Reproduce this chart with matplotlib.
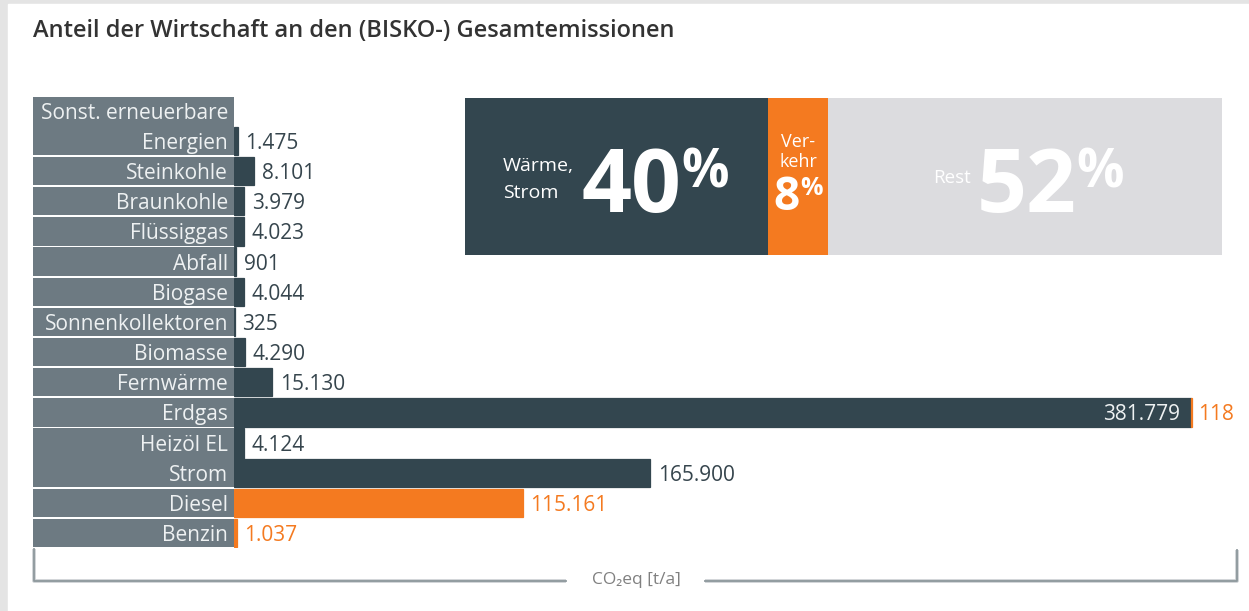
import matplotlib
matplotlib.use("Agg")
import matplotlib.pyplot as plt
import matplotlib.transforms as mtransforms
from matplotlib.patches import Rectangle
import numpy as np

# ---------------- data ----------------
title = "Anteil der Wirtschaft an den (BISKO-) Gesamtemissionen"
categories = ["Sonst. erneuerbare\nEnergien", "Steinkohle", "Braunkohle", "Flüssiggas",
              "Abfall", "Biogase", "Sonnenkollektoren", "Biomasse", "Fernwärme",
              "Erdgas", "Heizöl EL", "Strom", "Diesel", "Benzin"]
waerme_strom = [1475, 8101, 3979, 4023, 901, 4044, 325, 4290, 15130,
                381779, 4124, 165900, 0, 0]
verkehr = [0, 0, 0, 0, 0, 0, 0, 0, 0, 118, 0, 0, 115161, 1037]
label_join_next = [False] * 10 + [True] + [False] * 3   # Heizöl EL box merged with Strom

share_labels = ["Wärme,\nStrom", "Ver-\nkehr", "Rest"]
share_values = [40, 8, 52]
axis_label = "CO\u2082eq [t/a]"

# ---------------- style ----------------
C_DARK = "#33464f"
C_ORANGE = "#f47a20"
C_LIGHT = "#dcdcdf"
C_BOX = "#6d7a82"
C_BOXTXT = "#eef1f2"
C_VAL = "#36454d"
FS = 15

plt.rcParams["font.family"] = ["Open Sans", "DejaVu Sans"]

W, H = 1249, 611
fig = plt.figure(figsize=(W / 100, H / 100), dpi=100)


def fx(px):
    return px / W


def fh(py):
    return py / H


# decoration layer in pixel coordinates
deco = fig.add_axes([0, 0, 1, 1], zorder=0)
deco.set_xlim(0, W)
deco.set_ylim(H, 0)
deco.axis("off")
deco.add_patch(Rectangle((0, 0), W, H, color="#e4e4e4"))
deco.add_patch(Rectangle((8, 4), W - 8, H - 4, color="white"))
deco.text(33, 31, title, ha="left", va="center", fontsize=17,
          fontweight="semibold", color="#333333")

# bracket under the chart
bc = "#8e989d"
deco.plot([34, 34, 566], [549, 581, 581], color="#c9cdd0", lw=2.6, solid_capstyle="butt", zorder=1)
deco.plot([705, 1237, 1237], [581, 581, 550], color="#c9cdd0", lw=2.6, solid_capstyle="butt", zorder=1)
deco.plot([34, 34, 566], [549, 581, 581], color=bc, lw=1.3, zorder=2)
deco.plot([705, 1237, 1237], [581, 581, 550], color=bc, lw=1.3, zorder=2)
deco.text(636, 580, axis_label, ha="center", va="center", fontsize=12.5,
          color="#808080", family=["Open Sans", "DejaVu Sans"])

# ---------------- bars ----------------
n = len(categories)
ypos = np.arange(n)
top_px, pitch = 95.8, 30.15
bottom_px = top_px + pitch * (n + 1)
ax_bottom = 1 - fh(bottom_px)
ax_h = fh(bottom_px - top_px)

ax = fig.add_axes([fx(234), ax_bottom, fx(1237) - fx(234), ax_h], zorder=2)
ax.set_xlim(0, 400000)
ax.set_ylim(n - 0.5, -1.5)
ax.axis("off")
ax_txt = mtransforms.offset_copy(ax.transData, fig=fig, x=0, y=-2.5, units="dots")

g = 0.06
bh = 1 - g
centers, heights = [], []
for i in range(n):
    top = ypos[i] - bh / 2
    bot = ypos[i] + bh / 2
    if label_join_next[i]:
        bot = ypos[i + 1] - bh / 2
    centers.append((top + bot) / 2)
    heights.append(bot - top)

ws = np.array(waerme_strom)
vk = np.array(verkehr)
ax.barh(centers, ws, height=heights, color=C_DARK,
        edgecolor=[C_DARK if v > 0 else "none" for v in ws], lw=0.9)
ax.barh(centers, vk, left=ws, height=heights, color=C_ORANGE,
        edgecolor=[C_ORANGE if v > 0 else "none" for v in vk], lw=0.9)


def fmt(v):
    return f"{v:,}".replace(",", ".")


for i in range(n):
    a, b = ws[i], vk[i]
    if a > 0 and b > 0:
        ax.annotate(fmt(a), xy=(a, ypos[i]), xycoords=ax_txt, xytext=(-8, 0),
                    textcoords="offset points", ha="right", va="center",
                    fontsize=FS, color=C_BOXTXT)
        ax.annotate(fmt(b), xy=(a + b, ypos[i]), xycoords=ax_txt, xytext=(4.5, 0),
                    textcoords="offset points", ha="left", va="center",
                    fontsize=FS, color=C_ORANGE)
    elif a > 0:
        ax.annotate(fmt(a), xy=(a, ypos[i]), xycoords=ax_txt, xytext=(5.5, 0),
                    textcoords="offset points", ha="left", va="center",
                    fontsize=FS, color=C_VAL)
    elif b > 0:
        ax.annotate(fmt(b), xy=(b, ypos[i]), xycoords=ax_txt, xytext=(5.5, 0),
                    textcoords="offset points", ha="left", va="center",
                    fontsize=FS, color=C_ORANGE)

# ---------------- category label boxes ----------------
lab = fig.add_axes([fx(33), ax_bottom, fx(234) - fx(33), ax_h], zorder=1)
lab.set_xlim(0, 1)
lab.set_ylim(n - 0.5, -1.5)
lab.axis("off")
lab_txt = mtransforms.offset_copy(lab.transData, fig=fig, x=0, y=-2.5, units="dots")
i = 0
while i < n:
    nlines = categories[i].count("\n") + 1
    top = ypos[i] - (nlines - 1) - 0.5 + g / 2
    j = i
    while label_join_next[j]:
        j += 1
    bot = ypos[j] + 0.5 - g / 2
    lab.add_patch(Rectangle((0, top), 1, bot - top, color=C_BOX, lw=0))
    i = j + 1
for i, cat in enumerate(categories):
    for k, line in enumerate(reversed(cat.split("\n"))):
        lab.text(0.97, ypos[i] - k, line, ha="right", va="center",
                 fontsize=FS, color=C_BOXTXT, transform=lab_txt)

# ---------------- summary box ----------------
sa = fig.add_axes([fx(465), 1 - fh(255), fx(1222) - fx(465), fh(157)], zorder=3)
sa.set_xlim(0, 100)
sa.set_ylim(0, 1)
sa.axis("off")
seg_colors = [C_DARK, C_ORANGE, C_LIGHT]
lefts = np.cumsum([0] + share_values[:-1])
sa.barh([0.5] * 3, share_values, left=lefts, height=1.0, color=seg_colors, lw=0)

fig.canvas.draw()
renderer = fig.canvas.get_renderer()


def big_pct(x, yb, value, size, pct_size, ha="left"):
    t = sa.text(x, yb, f"{value}", ha=ha, va="baseline", fontsize=size,
                fontweight="bold", color="white")
    bb = t.get_window_extent(renderer)
    ybase = sa.transData.transform((x, yb))[1]
    sa.annotate("%", xy=(bb.x1, ybase), xycoords="figure pixels",
                xytext=(0, 0.714 * (size - pct_size)), textcoords="offset points",
                ha="left", va="baseline", fontsize=pct_size, fontweight="bold",
                color="white")


# Wärme, Strom
sa.text(5.0, 0.48, share_labels[0], ha="left", va="center", fontsize=14,
        color="white", linespacing=1.65)
big_pct(15.4, 0.274, share_values[0], 63, 38)
# Verkehr
sa.text(44.0, 0.655, share_labels[1], ha="center", va="center", fontsize=13,
        color="white", linespacing=1.15)
big_pct(40.8, 0.287, share_values[1], 33, 18)
# Rest
sa.text(66.8, 0.49, share_labels[2], ha="right", va="center", fontsize=13.5,
        color="white")
big_pct(67.6, 0.274, share_values[2], 63, 38)

fig.savefig("out.png", dpi=100)
